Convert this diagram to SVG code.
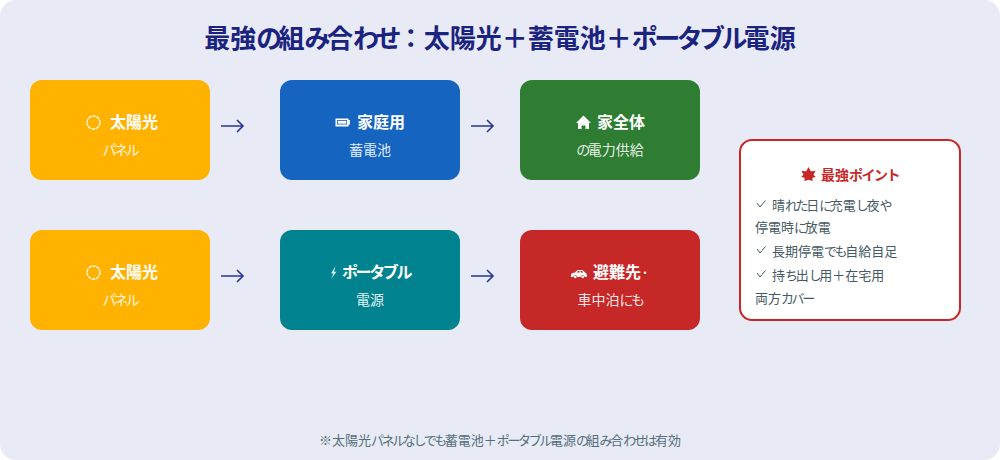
<svg xmlns="http://www.w3.org/2000/svg" width="1000" height="460" viewBox="0 0 1000 460">
<style>
text{font-family:"Noto Sans CJK JP","Noto Sans CJK SC",sans-serif}
tspan{letter-spacing:-2.4px}
.t tspan{letter-spacing:-3.6px}
.p tspan{letter-spacing:-1.5px}
.box{stroke:none}
.h{font-size:16px;font-weight:700;fill:#fff}
.s{font-size:14px;fill:#fff;fill-opacity:.9;text-anchor:middle}
.li{font-size:13px;fill:#455a64}
.ck{fill:none;stroke:#455a64;stroke-width:1}
.ar{fill:none;stroke:#283593;stroke-width:1.6}
</style>
<rect x="0" y="0" width="1000" height="460" rx="16" fill="#e8eaf6"/>
<text class="t" x="500" y="47.500" text-anchor="middle" font-size="26" font-weight="700" fill="#1a237e">最強<tspan>の</tspan>組<tspan>み</tspan>合<tspan>わせ</tspan>：太陽光＋蓄電池＋<tspan>ポータブル</tspan>電源</text>
<g id="connectors">
<path class="ar" d="M221 126H243M237 120L243 126L237 132"/>
<path class="ar" d="M471 126H493M487 120L493 126L487 132"/>
<path class="ar" d="M221 276H243M237 270L243 276L237 282"/>
<path class="ar" d="M471 276H493M487 270L493 276L487 282"/>
</g>
<g id="n1"><rect class="box" x="30" y="80" width="180" height="100" rx="12" fill="#ffb300"/>
<circle cx="93.500" cy="122.500" r="6.500" fill="none" stroke="#fff" stroke-width="1.300" stroke-dasharray="3.400 .7"/>
<text class="h" x="110" y="128">太陽光</text><text class="s" x="120" y="154.500"><tspan>パネル</tspan></text></g>
<g id="n2"><rect class="box" x="280" y="80" width="180" height="100" rx="12" fill="#1565c0"/>
<path d="M335.500 118.500h13v1.500h1.500v4.500h-1.500v2h-13z" fill="#fff"/><rect x="337" y="120" width="10" height="4.500" fill="#1565c0"/><rect x="337.800" y="120.800" width="8.500" height="2.900" fill="#fff"/>
<text class="h" x="357" y="128">家庭用</text><text class="s" x="370" y="154.500">蓄電池</text></g>
<g id="n3"><rect class="box" x="520" y="80" width="180" height="100" rx="12" fill="#2e7d32"/>
<path d="M583.500 115.500L591 123H589V129H585.500V125.500H581.500V129H578V123H576Z" fill="#fff"/>
<text class="h" x="597" y="128">家全体</text><text class="s" x="610" y="154.500"><tspan>の</tspan>電力供給</text></g>
<g id="n4"><rect class="box" x="30" y="230" width="180" height="100" rx="12" fill="#ffb300"/>
<circle cx="93.500" cy="272.500" r="6.500" fill="none" stroke="#fff" stroke-width="1.300" stroke-dasharray="3.400 .7"/>
<text class="h" x="110" y="278">太陽光</text><text class="s" x="120" y="304.500"><tspan>パネル</tspan></text></g>
<g id="n5"><rect class="box" x="280" y="230" width="180" height="100" rx="12" fill="#00838f"/>
<path d="M335.500 266L331 273.500H333.500L331 279L336.500 271.800H334Z" fill="#fff" fill-opacity=".85"/>
<text class="h" x="342" y="278"><tspan>ポータブル</tspan></text><text class="s" x="370" y="304.500">電源</text></g>
<g id="n6"><rect class="box" x="520" y="230" width="180" height="100" rx="12" fill="#c62828"/>
<path d="M571 277V274.500C571 273.500 573 272.800 575 272.500L577.500 270H582.500L585 272.500C586.500 272.800 587 274 587 277H584.800A2.200 2.200 0 0 0 580.500 277H577.500A2.200 2.200 0 0 0 573.200 277Z" fill="#fff"/>
<path d="M576.500 272.600L578 271H579.600V272.600ZM580.600 272.600V271H582L583.500 272.600Z" fill="#c62828"/>
<circle cx="575.300" cy="277" r="1.300" fill="#fff"/><circle cx="582.700" cy="277" r="1.300" fill="#fff"/>
<text class="h" x="593" y="278">避難先</text><circle cx="645" cy="272.800" r="1.300" fill="#fff"/><text class="s" x="610" y="304.500">車中泊<tspan>にも</tspan></text></g>
<g id="panel"><rect x="740" y="140" width="220" height="180" rx="12" fill="#fff" stroke="#c62828" stroke-width="2"/>
<path d="M808.500 167L810.800 171.300L815.500 171L813.500 174.800L815.800 177L812.500 177.800L812.500 181L808.500 179.800L804.500 181L804.500 177.800L801.200 177L803.500 174.800L801.500 171L806.200 171.300Z" fill="#c62828"/>
<text class="p" x="821" y="180" font-size="14" font-weight="700" fill="#c62828">最強<tspan>ポイント</tspan></text>
<path class="ck" d="M757 203L760 207L765.500 200.500"/>
<text class="li" x="772" y="209.500">晴<tspan>れた</tspan>日<tspan>に</tspan>充電<tspan>し</tspan>夜<tspan>や</tspan></text>
<text class="li" x="755" y="231.500">停電時<tspan>に</tspan>放電</text>
<path class="ck" d="M757 249L760 253L765.500 246.500"/>
<text class="li" x="772" y="255.500">長期停電<tspan>でも</tspan>自給自足</text>
<path class="ck" d="M757 273L760 277L765.500 270.500"/>
<text class="li" x="772" y="279.500">持<tspan>ち</tspan>出<tspan>し</tspan>用＋在宅用</text>
<text class="li" x="755" y="303">両方<tspan>カバー</tspan></text></g>
<text x="500" y="445" text-anchor="middle" font-size="13" fill="#546e7a">※太陽光<tspan>パネルなしでも</tspan>蓄電池＋<tspan>ポータブル</tspan>電源<tspan>の</tspan>組<tspan>み</tspan>合<tspan>わせは</tspan>有効</text>
</svg>
